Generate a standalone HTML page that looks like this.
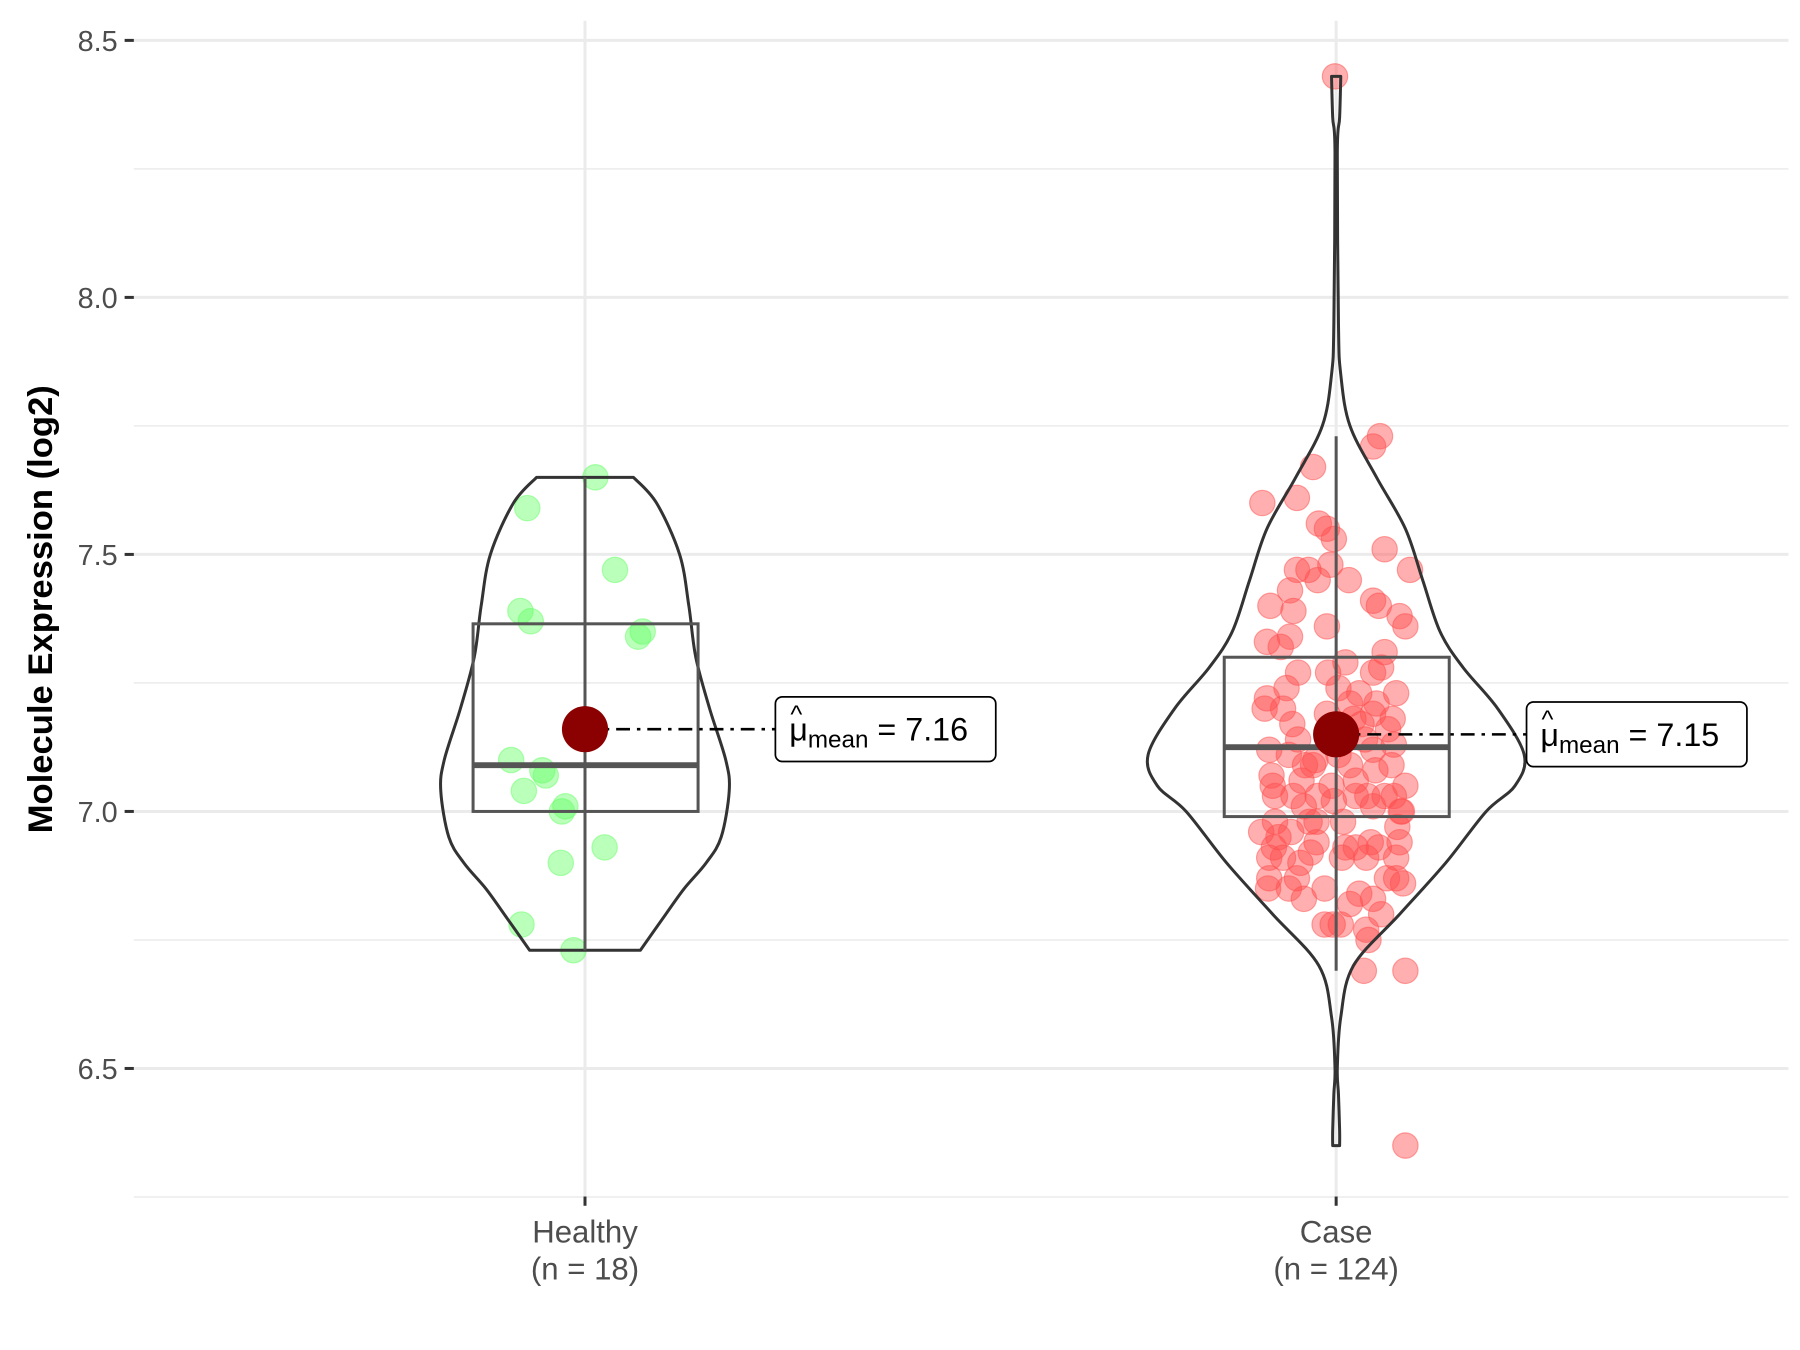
<!DOCTYPE html>
<html><head><meta charset="utf-8"><style>
html,body{margin:0;padding:0;background:#fff}
svg{display:block;font-family:"Liberation Sans",sans-serif}
</style></head><body>
<svg id="chart" width="1800" height="1350" viewBox="0 0 1560 1170" xmlns="http://www.w3.org/2000/svg">
<g id="grid"></g>
<g id="marks"></g>
<g id="axes"></g>
<text transform="translate(45,528) rotate(-90)" text-anchor="middle" font-size="30" font-weight="bold" fill="#000">Molecule Expression (log2)</text>
</svg>
<script>
const categories = ["Healthy","Case"];
const counts = [18,124];
const yTicks = [6.5,7.0,7.5,8.0,8.5];
const yMinor = [6.25,6.75,7.25,7.75,8.25];
const means = [7.16,7.15];
const q1 = [7.00,6.99];
const medians = [7.09,7.125];
const q3 = [7.365,7.30];
const whiskLo = [6.73,6.69];
const whiskHi = [7.65,7.73];
const healthyVals = [7.65,7.59,7.47,7.39,7.37,7.34,7.35,7.10,7.08,7.07,7.04,7.00,7.01,6.93,6.90,6.78,6.73,7.16];
const healthyJit = [9,-50,26,-56,-47,46,50,-64,-37,-34,-53,-20,-17,17,-21,-55,-10,0];
const caseVals = [8.43,6.35,6.69,6.69,7.73,7.71,7.67,7.60,7.61,7.56,7.55,7.53,7.51,7.47,7.48,7.47,7.47,7.45,7.45,7.43,7.41,7.40,7.40,7.39,7.38,7.36,7.33,7.34,7.32,7.31,7.29,7.28,7.27,7.27,7.24,7.24,7.22,7.20,7.21,7.19,7.18,7.18,7.16,7.15,7.14,7.14,7.13,7.12,7.11,7.09,7.09,7.09,7.08,7.09,7.07,7.06,7.06,7.05,7.05,7.05,7.03,7.03,7.03,7.02,7.00,6.98,6.98,6.98,6.97,6.96,6.96,6.95,6.94,6.94,6.94,6.93,6.92,6.93,6.91,6.91,6.91,6.91,6.91,6.85,6.85,6.85,6.87,6.86,6.83,6.82,6.84,6.78,6.78,6.77,6.78,6.75,6.80,6.87,6.90,6.87,6.98,6.93,7.01,7.01,7.19,7.23,7.17,7.23,7.10,7.12,7.11,7.03,6.83,6.93,7.00,7.03,7.03,7.20,7.21,7.27,7.36,7.03,6.87,7.17];
const caseJit = [-1,60,60,24,38,32,-20,-64,-34,-15,-8,-2,42,64,-5,-24,-34,11,-16,-40,32,37,-57,-37,55,60,-60,-40,-48,42,8,39,-7,32,2,-43,-60,-62,35,32,49,15,45,-8,-33,25,50,-58,-41,-20,12,48,34,-27,-56,-30,17,-4,60,-55,-37,17,42,-2,56,-53,-23,6,53,-65,-39,-50,55,30,-17,17,-22,-54,-46,-58,5,52,26,-59,-41,-10,44,58,32,12,20,-10,4,26,-3,28,39,52,-31,-34,-17,8,32,-28,-8,20,-38,52,-18,32,2,-53,-28,37,57,-16,27,-46,12,-33,-8,50,-58,22];
const violinVals = [[7.65,7.6,7.5,7.4,7.3,7.2,7.1,7.04,6.95,6.9,6.85,6.8,6.73],[8.43,8.35,8.28,7.95,7.85,7.75,7.65,7.55,7.45,7.35,7.28,7.2,7.11,7.05,7.0,6.9,6.8,6.7,6.6,6.5,6.45,6.38,6.35]];
const violinDens = [[42,62,82,90,96,108,122,125,118,105,86,70,48],[4,3,1,2,4,12,35,60,75,90,110,140,163,155,130,95,55,15,4,1,2,3,3]];

const NS="http://www.w3.org/2000/svg";
const X0=116,X1=1550,Ytop=18,Ybot=1037;
const y=v=>35+(8.5-v)*445.5;
const x=i=>[507,1158][i];
function mk(tag,attrs,parent){const e=document.createElementNS(NS,tag);for(const k in attrs)e.setAttribute(k,attrs[k]);parent.appendChild(e);return e;}
function smooth(pts){let d='M'+pts[0][0]+','+pts[0][1];
 for(let k=0;k<pts.length-1;k++){const p0=pts[Math.max(k-1,0)],p1=pts[k],p2=pts[k+1],p3=pts[Math.min(k+2,pts.length-1)];
  const c1=[p1[0]+(p2[0]-p0[0])/6,p1[1]+(p2[1]-p0[1])/6],c2=[p2[0]-(p3[0]-p1[0])/6,p2[1]-(p3[1]-p1[1])/6];
  d+='C'+c1[0]+','+c1[1]+' '+c2[0]+','+c2[1]+' '+p2[0]+','+p2[1];}
 return d;}
const grid=document.getElementById('grid'),marks=document.getElementById('marks'),axes=document.getElementById('axes');
yMinor.forEach(v=>{const l=mk('line',{x1:X0,x2:X1,y1:y(v),y2:y(v),stroke:'#ebebeb','stroke-width':1.3},grid);

});
yTicks.forEach(v=>{const l=mk('line',{x1:X0,x2:X1,y1:y(v),y2:y(v),stroke:'#ebebeb','stroke-width':2.6},grid);


const t=mk('line',{x1:108,x2:116,y1:y(v),y2:y(v),stroke:'#333','stroke-width':2.6},axes);


const tx=mk('text',{x:102,y:y(v)+9,'text-anchor':'end','font-size':25,fill:'#4d4d4d'},axes);tx.textContent=v.toFixed(1);

});
categories.forEach((c,i)=>{const l=mk('line',{x1:x(i),x2:x(i),y1:Ytop,y2:Ybot,stroke:'#ebebeb','stroke-width':2.6},grid);


const t=mk('line',{x1:x(i),x2:x(i),y1:Ybot,y2:Ybot+8,stroke:'#333','stroke-width':2.6},axes);


const tx=mk('text',{x:x(i),y:1077,'text-anchor':'middle','font-size':27,fill:'#4d4d4d'},axes);tx.textContent=c;


const tn=mk('text',{x:x(i),y:1109,'text-anchor':'middle','font-size':27,fill:'#4d4d4d'},axes);tn.textContent='(n = '+counts[i]+')';

});
const fills=['#66ff66','#ff4d4d'];
[[healthyVals,healthyJit],[caseVals,caseJit]].forEach(([vals,jit],i)=>{vals.forEach((v,k)=>{const c=mk('circle',{cx:x(i)+jit[k],cy:y(v),r:11,fill:fills[i],'fill-opacity':0.45,stroke:fills[i],'stroke-opacity':0.5},marks);

});});
categories.forEach((c,i)=>{
 const vv=violinVals[i],dd=violinDens[i];
 const right=vv.map((v,k)=>[x(i)+dd[k],y(v)]);
 const left=vv.map((v,k)=>[x(i)-dd[k],y(v)]).reverse();
 let p=smooth(right)+'L'+left[0][0]+','+left[0][1]+smooth(left).replace(/^M[^C]*/,'')+'Z';
 const vp=mk('path',{d:p,fill:'none',stroke:'#333','stroke-width':2.6,'stroke-linejoin':'round'},marks);
 
 
 const w=mk('line',{x1:x(i),x2:x(i),y1:y(whiskLo[i]),y2:y(whiskHi[i]),stroke:'#555','stroke-width':2.6},marks);
 
 
 const b=mk('rect',{x:x(i)-97,y:y(q3[i]),width:195,height:y(q1[i])-y(q3[i]),fill:'none',stroke:'#555','stroke-width':2.6},marks);
 
 
 const m=mk('line',{x1:x(i)-97,x2:x(i)+98,y1:y(medians[i]),y2:y(medians[i]),stroke:'#555','stroke-width':5},marks);
 
 
 const bx=x(i)+165,by=y(means[i]);
 const dl=mk('line',{x1:x(i),x2:bx,y1:by,y2:by,stroke:'#000','stroke-width':2.2,'stroke-dasharray':'12,6,3,6'},marks);
 
 
 const mc=mk('circle',{cx:x(i),cy:by,r:20,fill:'#8b0000'},marks);
 
 
 const lb=mk('rect',{x:bx,y:by-28,width:191,height:56,rx:6,fill:'#fff',stroke:'#000','stroke-width':1.5},marks);
 
 
 const t=mk('text',{x:bx+12,y:by+10,'font-size':28,fill:'#000'},marks);
 t.innerHTML='μ<tspan font-size="21" dy="6">mean</tspan><tspan dy="-6"> = '+means[i].toFixed(2)+'</tspan>';
 
 
 const h=mk('text',{x:bx+13,y:by-6,'font-size':22,fill:'#000'},marks);h.textContent='^';
 
 
});
</script>
</body></html>
